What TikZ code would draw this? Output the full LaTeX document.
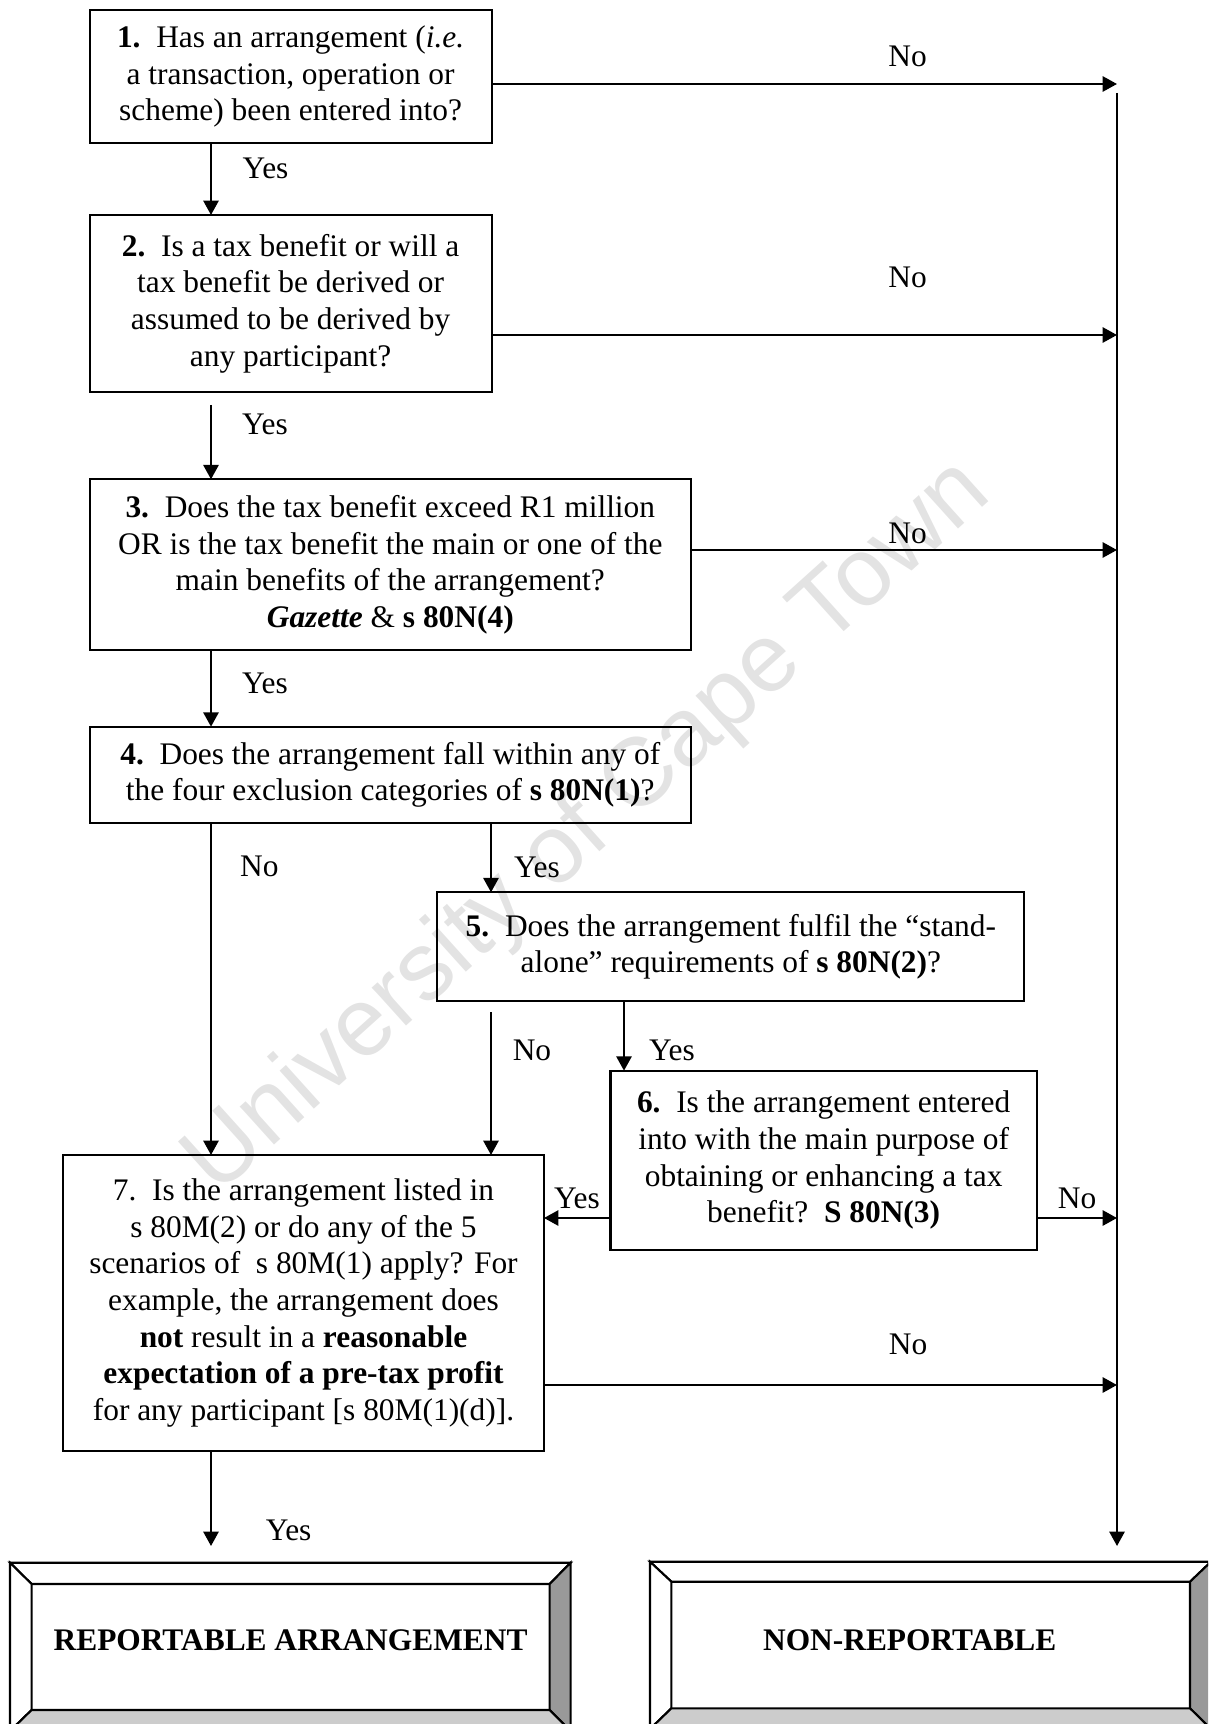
\documentclass[tikz,border=0pt]{standalone}
\usepackage{fontspec}
\setmainfont{Liberation Serif}
\newfontfamily\wmfont{Liberation Sans}
\usetikzlibrary{arrows.meta, calc}
\newcommand{\upx}{0.382pt}
\definecolor{bevelDark}{HTML}{999999}
\definecolor{bevelLight}{HTML}{CCCCCC}
\tikzstyle{arrow} = [line width=0.9pt,-{Triangle[length=5.5pt,width=5.8pt]}]
\tikzstyle{qbox} = [draw, line width=0.8pt, inner sep=0pt, outer sep=0pt, align=center, anchor=north west, font=\fontsize{12pt}{14pt}\selectfont]
\tikzstyle{lbl} = [inner sep=0pt, font=\fontsize{12pt}{14pt}\selectfont]
\tikzstyle{endtext} = [inner sep=0pt, font=\fontsize{12pt}{14pt}\selectfont\bfseries]
\tikzset{boxsize/.style 2 args={minimum width=#1*\upx, minimum height=#2*\upx}}

\begin{document}
\begin{tikzpicture}[x=0.382pt, y=-0.382pt]
\useasboundingbox (0,0) rectangle (1208,1724);
\clip (0,0) rectangle (1208,1724);

% watermark
\node[rotate=42, text=black!11, font=\wmfont\fontsize{37pt}{37pt}\selectfont] (wmark) at (589,828) {University of Cape Town};

% question boxes
\node[qbox, boxsize={402}{133}] (q1) at (89.6,10)
  {\textbf{1.}\ \ Has an arrangement (\textit{i.e.}\\ a transaction, operation or\\ scheme) been entered into?};
\node[qbox, boxsize={402}{177}] (q2) at (89.6,215)
  {\textbf{2.}\ \ Is a tax benefit or will a\\ tax benefit be derived or\\ assumed to be derived by\\ any participant?};
\node[qbox, boxsize={601}{171}] (q3) at (89.8,479.3)
  {\textbf{3.}\ \ Does the tax benefit exceed R1 million\\ OR is the tax benefit the main or one of the\\ main benefits of the arrangement?\\ \textbf{\textit{Gazette}} \& \textbf{s 80N(4)}};
\node[qbox, boxsize={601}{96.6}] (q4) at (89.8,726.7)
  {\textbf{4.}\ \ Does the arrangement fall within any of\\ the four exclusion categories of \textbf{s 80N(1)}?};
\node[qbox, boxsize={587}{108.7}] (q5) at (437.4,892.3)
  {\textbf{5.}\ \ Does the arrangement fulfil the “stand-\\ alone” requirements of \textbf{s 80N(2)}?};
\node[qbox, boxsize={426.3}{179.3}] (q6) at (610.5,1070.7)
  {\textbf{6.}\ \ Is the arrangement entered\\ into with the main purpose of\\ obtaining or enhancing a tax\\ benefit?\ \ \textbf{S 80N(3)}};
\node[qbox, boxsize={481}{295.7}] (q7) at (63,1155)
  {7.\ \ Is the arrangement listed in\\ s 80M(2) or do any of the 5\\ scenarios of\ \ s 80M(1) apply? For\\ example, the arrangement does\\ \textbf{not} result in a \textbf{reasonable}\\ \textbf{expectation of a pre-tax profit}\\ for any participant [s 80M(1)(d)].};

% helper points
\coordinate (colA) at (211,0);
\coordinate (colB) at (491,0);
\coordinate (colC) at (624,0);
\coordinate (busTop) at (1117,93);
\coordinate (busEnd) at (1117,1546);
\coordinate (repIn) at (211,1546);
\coordinate (r1) at (1117,84);
\coordinate (r2) at (1117,335);
\coordinate (r3) at (1117,550);
\coordinate (r6) at (1117,1218);
\coordinate (r7) at (1117,1385);

% connectors
\draw[arrow] (q1.south -| colA) -- (q2.north -| colA);
\draw[arrow] ($(q2.south -| colA)+(0,13)$) -- (q3.north -| colA);
\draw[arrow] (q3.south -| colA) -- (q4.north -| colA);
\draw[arrow] (q4.south -| colA) -- (q7.north -| colA);
\draw[arrow] (q4.south -| colB) -- (q5.north -| colB);
\draw[arrow] ($(q5.south -| colB)+(0,11)$) -- (q7.north -| colB);
\draw[arrow] (q5.south -| colC) -- (q6.north -| colC);
\draw[arrow] (q6.west |- r6) -- (q7.east |- r6);
\draw[arrow] (q7.south -| colA) -- (repIn);
\draw[arrow] (q1.east |- r1) -- (r1);
\draw[arrow] (q2.east |- r2) -- (r2);
\draw[arrow] (q3.east |- r3) -- (r3);
\draw[arrow] (q6.east |- r6) -- (r6);
\draw[arrow] (q7.east |- r7) -- (r7);
\draw[arrow] (busTop) -- (busEnd);

% labels
\node[lbl] (yes1) at (265.6,168) {Yes};
\node[lbl] (yes2) at (265,424) {Yes};
\node[lbl] (yes3) at (265,683) {Yes};
\node[lbl] (yes4) at (537,867) {Yes};
\node[lbl] (yes5) at (672,1050) {Yes};
\node[lbl] (yes6) at (577,1198) {Yes};
\node[lbl] (yes7) at (288.6,1530) {Yes};
\node[lbl] (no1) at (907.6,56) {No};
\node[lbl] (no2) at (907.6,277) {No};
\node[lbl] (no3) at (907.6,533.5) {No};
\node[lbl] (no4) at (259.4,866) {No};
\node[lbl] (no5) at (532,1050) {No};
\node[lbl] (no6) at (1077,1198) {No};
\node[lbl] (no7) at (908,1344) {No};

% bevelled result boxes
\foreach \ox/\oy/\oX/\oY/\ix/\iy/\iX/\iY in
  {10/1562.7/570.6/1731/31.6/1584/549.6/1710,
   650/1561.7/1211/1729/671.4/1581.7/1190/1708.3}
{
  \filldraw[fill=white, line width=0.8pt] (\ox,\oy) -- (\oX,\oy) -- (\iX,\iy) -- (\ix,\iy) -- cycle;
  \filldraw[fill=white, line width=0.8pt] (\ox,\oy) -- (\ix,\iy) -- (\ix,\iY) -- (\ox,\oY) -- cycle;
  \filldraw[fill=bevelDark, line width=0.8pt] (\oX,\oy) -- (\oX,\oY) -- (\iX,\iY) -- (\iX,\iy) -- cycle;
  \filldraw[fill=bevelLight, line width=0.8pt] (\ix,\iY) -- (\iX,\iY) -- (\oX,\oY) -- (\ox,\oY) -- cycle;
}
\node[endtext] (rep) at (290.6,1640) {REPORTABLE ARRANGEMENT};
\node[endtext] (nonrep) at (909.7,1640) {NON-REPORTABLE};

\end{tikzpicture}
\end{document}
